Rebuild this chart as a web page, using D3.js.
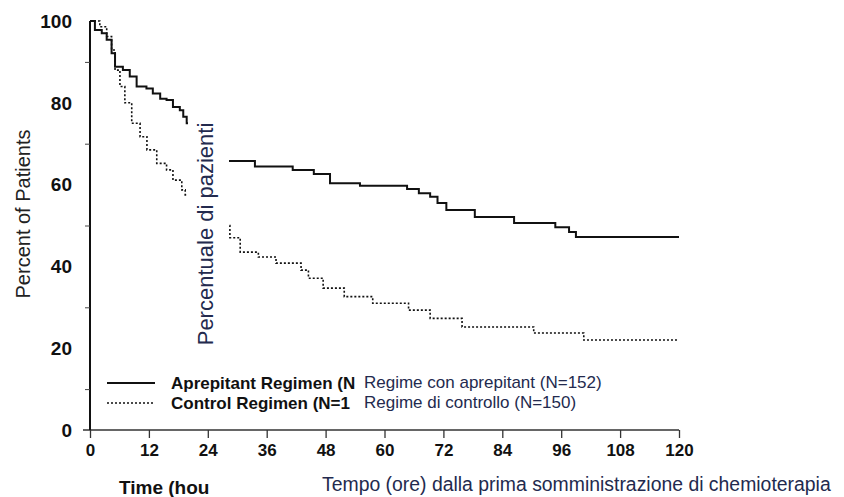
<!DOCTYPE html>
<html>
<head>
<meta charset="utf-8">
<script src="https://cdn.jsdelivr.net/npm/d3@7"></script>
<style>
  html, body { margin: 0; padding: 0; background: #fff; }
  svg { display: block; }
</style>
</head>
<body>
<svg id="chart" width="844" height="497"></svg>
<script>
// ---- data ----
const aprepitantTime  = [0, 1.0, 2.4, 3.4, 4.4, 5.1, 6.7, 8.1, 9.5, 11.5, 12.8, 14.3, 15.6, 16.9, 18.3, 19.0, 19.7, 22, 25, 27.5, 33.6, 41.3, 45.6, 48.9, 55, 64.6, 67, 69.3, 70.8, 72.6, 78.4, 86.4, 94.8, 97.6, 99, 120];
const aprepitantValue = [100, 97.8, 97, 95.4, 92.1, 88.8, 88, 86.4, 84, 83.5, 82.3, 81, 80.7, 79, 78.2, 76.6, 75, 72, 68, 65.8, 64.4, 63.6, 62.6, 60.3, 59.7, 58.9, 57.9, 57, 55.5, 53.8, 52.1, 50.6, 49.6, 48.4, 47.2, 47.2];
const controlTime  = [0, 2.0, 3.4, 4.4, 5.1, 6.1, 7.1, 8.5, 10.2, 11.6, 13.6, 15.6, 16.9, 18.7, 19.4, 22, 25, 28.5, 30.6, 34.3, 37.9, 43, 44.5, 47.5, 51.8, 57.6, 64.9, 69.3, 75.8, 90.4, 100.6, 120];
const controlValue = [100, 98.6, 96.2, 92.9, 88, 84, 80, 75, 71.7, 68.5, 65.2, 63.6, 61.1, 58.7, 57.5, 53, 50, 47, 43.5, 42.3, 40.8, 39.1, 37.1, 34.7, 32.6, 31, 29.3, 27.3, 25.2, 23.7, 22, 22];
const xTickValues = [0, 12, 24, 36, 48, 60, 72, 84, 96, 108, 120];
const yLabelValues = [0, 20, 40, 60, 80, 100];
const yMinorTicks = [10, 30, 50, 70, 90];
// English texts as they are visible (partly covered by the translation)
const seriesNames = ["Aprepitant Regimen (N", "Control Regimen (N=1"];
const seriesNamesIt = ["Regime con aprepitant (N=152)", "Regime di controllo (N=150)"];
const yTitle = "Percent of Patients";
const yTitleIt = "Percentuale di pazienti";
const xTitle = "Time (hou";
const xTitleIt = "Tempo (ore) dalla prima somministrazione di chemioterapia";

// ---- drawing ----
const svg = d3.select("#chart");
const x = d3.scaleLinear().domain([0, 120]).range([90, 679]);
const y = d3.scaleLinear().domain([0, 100]).range([430, 21]);
const font = "'Liberation Sans', Arial, sans-serif";
const itColor = "#232a4e";

const line = d3.line().x(d => x(d[0])).y(d => y(d[1])).curve(d3.curveStepAfter);
const aData = d3.zip(aprepitantTime, aprepitantValue);
const cData = d3.zip(controlTime, controlValue);

svg.append("path").datum(cData).attr("d", line)
  .attr("fill", "none").attr("stroke", "#111").attr("stroke-width", 1.6)
  .attr("stroke-dasharray", "2,2");
svg.append("path").datum(aData).attr("d", line)
  .attr("fill", "none").attr("stroke", "#111").attr("stroke-width", 2);

// axes
const xAxis = svg.append("g").attr("transform", `translate(0,${y(0)})`)
  .call(d3.axisBottom(x).tickValues(xTickValues).tickSize(8).tickPadding(6).tickSizeOuter(0));
xAxis.select(".domain").attr("stroke", "#333").attr("stroke-width", 1.5)
  .attr("d", `M${x(0) - 7},0H${x(120)}`);
xAxis.selectAll(".tick line").attr("stroke", "#333").attr("stroke-width", 1.3);
xAxis.selectAll(".tick text").attr("font-family", font).attr("font-size", 17)
  .attr("font-weight", "bold").attr("fill", "#111");

const yAxis = svg.append("g").attr("transform", `translate(${x(0)},0)`)
  .call(d3.axisLeft(y).tickValues(yMinorTicks).tickSize(5).tickFormat("").tickSizeOuter(0));
yAxis.select(".domain").attr("stroke", "#111").attr("stroke-width", 2)
  .attr("d", `M0,${y(100)}V${y(0)}`);
yAxis.selectAll(".tick line").attr("stroke", "#444").attr("stroke-width", 1);

svg.append("g").selectAll("text").data(yLabelValues).join("text")
  .attr("x", 72).attr("y", d => y(d)).attr("dy", "0.36em")
  .attr("text-anchor", "end").attr("font-family", font).attr("font-size", 19)
  .attr("font-weight", "bold").attr("fill", "#111").text(d => d);

// y title
svg.append("text").attr("transform", `translate(30,${214}) rotate(-90)`)
  .attr("text-anchor", "middle").attr("font-family", font).attr("font-size", 20)
  .attr("fill", "#222").text(yTitle);

// x title (english, visible part)
svg.append("text").attr("x", 119).attr("y", 494)
  .attr("font-family", font).attr("font-size", 19).attr("font-weight", "bold")
  .attr("fill", "#111").text(xTitle);

// legend (english, visible part)
const legY = [383, 403];
svg.append("line").attr("x1", 107).attr("x2", 155).attr("y1", legY[0]).attr("y2", legY[0])
  .attr("stroke", "#111").attr("stroke-width", 2);
svg.append("line").attr("x1", 107).attr("x2", 155).attr("y1", legY[1]).attr("y2", legY[1])
  .attr("stroke", "#111").attr("stroke-width", 1.6).attr("stroke-dasharray", "2,2");
svg.append("g").selectAll("text").data(seriesNames).join("text")
  .attr("x", 171).attr("y", (d, i) => legY[i]).attr("dy", "0.36em")
  .attr("font-family", font).attr("font-size", 17).attr("font-weight", "bold")
  .attr("fill", "#111").text(d => d);

// white box behind the rotated translation
svg.append("rect").attr("x", 188).attr("y", 102).attr("width", 41).attr("height", 256).attr("fill", "#fff");

// italian overlays
svg.append("text").attr("transform", `translate(213,${234}) rotate(-90)`)
  .attr("text-anchor", "middle").attr("font-family", font).attr("font-size", 22)
  .attr("fill", itColor).text(yTitleIt);
svg.append("g").selectAll("text").data(seriesNamesIt).join("text")
  .attr("x", 364).attr("y", (d, i) => legY[i] - 1).attr("dy", "0.36em")
  .attr("font-family", font).attr("font-size", 17)
  .attr("fill", itColor).text(d => d);
svg.append("text").attr("x", 322).attr("y", 491)
  .attr("font-family", font).attr("font-size", 19.4)
  .attr("fill", itColor).text(xTitleIt);
</script>
</body>
</html>
